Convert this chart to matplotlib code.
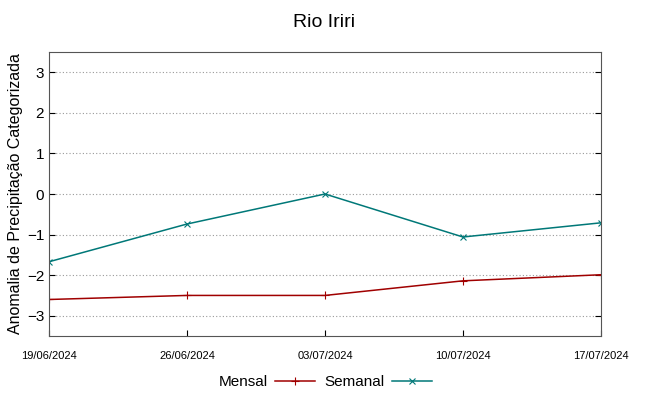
import matplotlib.pyplot as plt

plt.rcParams['font.family'] = ['Liberation Sans', 'DejaVu Sans']

dates = ['19/06/2024', '26/06/2024', '03/07/2024', '10/07/2024', '17/07/2024']
mensal = [-2.6, -2.5, -2.5, -2.14, -1.99]
semanal = [-1.67, -0.74, 0.0, -1.06, -0.71]

fig = plt.figure(figsize=(6.49, 3.96), dpi=100)
ax = fig.add_axes([0.0755, 0.1515, 0.8505, 0.7172])

x = list(range(len(dates)))
ax.plot(x, mensal, color='#a00000', lw=1.1, marker='+', ms=6, mew=0.8, label='Mensal')
ax.plot(x, semanal, color='#007878', lw=1.1, marker='x', ms=4.5, mew=0.8, label='Semanal')

ax.set_xlim(0, len(dates) - 1)
ax.set_ylim(-3.5, 3.5)
ax.set_xticks(x)
ax.set_xticklabels(dates, fontsize=8)
ax.set_yticks([-3, -2, -1, 0, 1, 2, 3])
ax.tick_params(axis='y', labelsize=11)
ax.tick_params(direction='in', right=True, top=False, length=4)
ax.tick_params(axis='x', pad=11)
ax.grid(axis='y', color='#999999', linestyle=(0, (1, 2)), lw=0.8)
for s in ax.spines.values():
    s.set_color('#555555')

ax.set_ylabel('Anomalia de Precipitação Categorizada', fontsize=11.5, labelpad=3)
fig.suptitle('Rio Iriri', fontsize=14, y=0.965)

ax.legend(loc='center', bbox_to_anchor=(0.5, -0.162), ncol=2, frameon=False,
          markerfirst=False, fontsize=11, handlelength=2.6, columnspacing=0.6,
          handletextpad=0.5)

fig.savefig('out.png', dpi=100)
